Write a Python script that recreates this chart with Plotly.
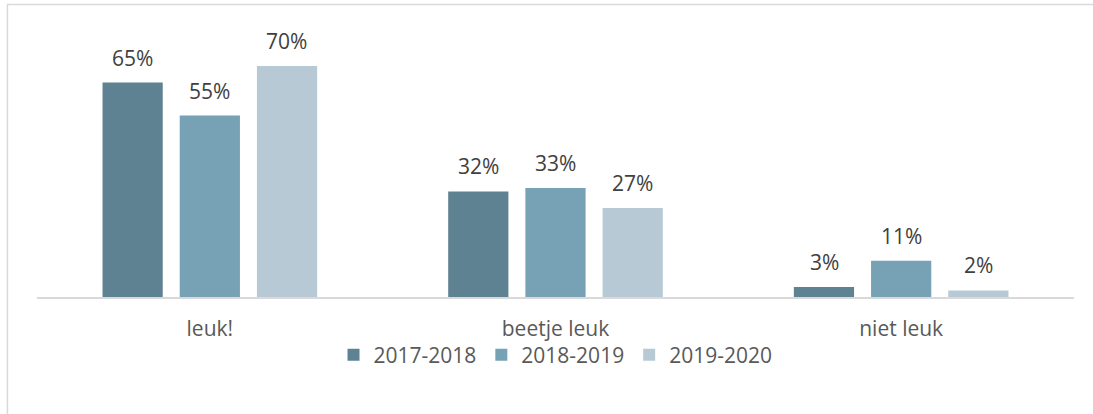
import plotly.graph_objects as go

# data
categories = ['leuk!', 'beetje leuk', 'niet leuk']
seasons = ['2017-2018', '2018-2019', '2019-2020']
values_2017 = [65, 32, 3]
values_2018 = [55, 33, 11]
values_2019 = [70, 27, 2]

series = [values_2017, values_2018, values_2019]
colors = ['#5F8292', '#77A2B6', '#B7C9D4']
label_color = '#404040'
text_color = '#595959'
font_family = 'Open Sans, Noto Sans, sans-serif'

fig = go.Figure()

for name, vals, col in zip(seasons, series, colors):
    fig.add_trace(go.Bar(
        x=categories,
        y=vals,
        name=name,
        marker=dict(color=col, line=dict(width=0)),
        hoverinfo='x+y+name',
    ))

# value labels above the bars (excel style, with some space)
slot_px = 77
for j, vals in enumerate(series):
    for cat, v in zip(categories, vals):
        fig.add_annotation(
            x=cat, y=v, xref='x', yref='y',
            text=f'{v}%', showarrow=False,
            xshift=(j - 1) * slot_px, yshift=25,
            font=dict(size=21, color=label_color, family=font_family),
        )

# outer chart frame (partly cut off in the original)
fig.add_shape(type='rect', xref='paper', yref='paper',
              x0=-0.0285, x1=1.2, y0=-0.7, y1=1.108,
              line=dict(color='#D9D9D9', width=1.5), fillcolor='rgba(0,0,0,0)')

fig.update_layout(
    width=1093,
    height=414,
    margin=dict(l=37, r=19, t=33, b=117),
    barmode='group',
    bargap=0.33,
    bargroupgap=0.22,
    plot_bgcolor='white',
    paper_bgcolor='white',
    font=dict(family=font_family, size=21, color=text_color),
    showlegend=True,
    legend=dict(
        orientation='h',
        x=0.5, xanchor='center',
        y=-0.22, yanchor='middle',
        font=dict(size=21, color=text_color),
        bgcolor='rgba(0,0,0,0)',
        itemwidth=30,
        traceorder='normal',
    ),
    xaxis=dict(
        showline=True, linecolor='#D9D9D9', linewidth=1.5,
        showgrid=False, ticks='', ticklabelstandoff=12,
        tickfont=dict(size=21, color=text_color),
    ),
    yaxis=dict(
        range=[0, 80], visible=False, showgrid=False, zeroline=False,
    ),
)

# drop the default page margin so the figure sits at the window corner
fig.write_html('out.html', config={'displayModeBar': False},
               post_script="document.body.style.margin='0';")
